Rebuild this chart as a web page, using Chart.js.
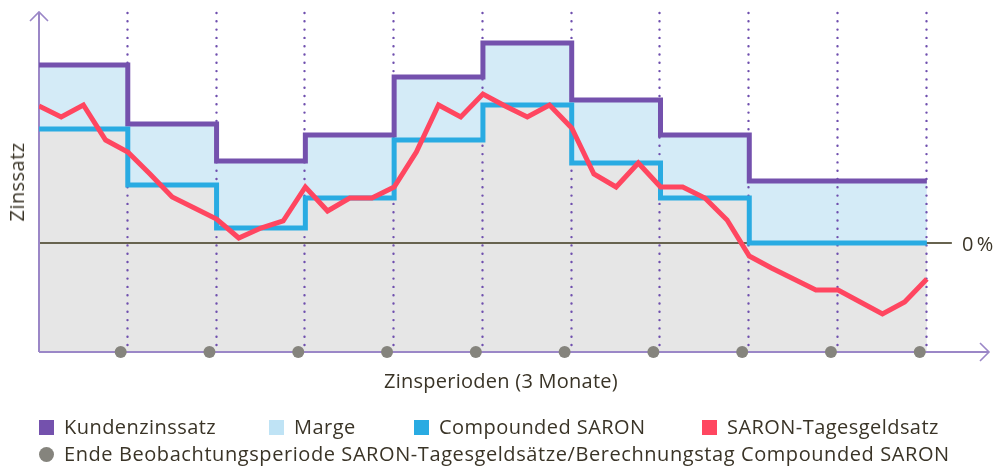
<!DOCTYPE html>
<html><head><meta charset="utf-8">
<script src="https://cdn.jsdelivr.net/npm/chart.js@4.4.0/dist/chart.umd.min.js"></script>
<style>
html,body{margin:0;padding:0;background:#fff;}
#wrap{position:relative;width:995px;height:468px;overflow:hidden;font-family:"Open Sans",sans-serif;color:#3a3427;}
canvas{position:absolute;left:0;top:0;}
.t{position:absolute;font-size:20px;white-space:nowrap;line-height:24px;height:24px;letter-spacing:0.45px;}
.sw{position:absolute;width:15px;height:15px;}
.dot{border-radius:50%;}
</style></head>
<body>
<div id="wrap">
<canvas id="c" width="995" height="468"></canvas>
<div class="t" id="ytitle" style="left:17px;top:182px;transform:translate(-50%,-50%) rotate(-90deg);">Zinssatz</div>
<div class="t" id="xtitle" style="left:501px;top:369px;transform:translateX(-50%);letter-spacing:0.25px;">Zinsperioden (3 Monate)</div>
<div class="t" id="zero" style="left:962px;top:232px;letter-spacing:0;">0&#8201;%</div>
<div id="legend"></div>
</div>
<script>
// ---- data ----
const periodStarts = [0, 1, 2, 3, 4, 5, 6, 7, 8, 9];           // Zinsperioden (3 Monate)
const kundenzinssatz = [1.78, 1.19, 0.82, 1.08, 1.66, 2.00, 1.43, 1.08, 0.62, 0.62];
const compoundedSaron = [1.14, 0.58, 0.15, 0.45, 1.03, 1.38, 0.80, 0.45, 0.00, 0.00];
const saronTagesgeldsatz = [1.37, 1.26, 1.38, 1.03, 0.91, 0.69, 0.46, 0.35, 0.24, 0.05,
  0.15, 0.22, 0.56, 0.32, 0.45, 0.45, 0.56, 0.91, 1.38, 1.26,
  1.49, 1.37, 1.26, 1.38, 1.15, 0.69, 0.56, 0.80, 0.56, 0.56,
  0.45, 0.23, -0.13, -0.25, -0.36, -0.47, -0.47, -0.59, -0.71, -0.59, -0.36];
const obsPerPeriod = 4;
const endBeobachtung = [0.92, 1.92, 2.92, 3.92, 4.92, 5.92, 6.92, 7.92, 8.92, 9.92];
const xMax = 10.7, yMin = -1.09, yMax = 2.31;

const legendRow1 = ["Kundenzinssatz", "Marge", "Compounded SARON", "SARON-Tagesgeldsatz"];
const legendRow2 = ["Ende Beobachtungsperiode SARON-Tagesgeldsätze/Berechnungstag Compounded SARON"];

// ---- colours ----
const C = {purple:'#7451ad', marge:'#d4ebf7', margeKey:'#bfe3f5', blue:'#29abe2', red:'#ff4660', grey:'#e6e6e6', dot:'#85847d'};

function steps(vals){
  const pts = vals.map((v,i)=>({x:periodStarts[i], y:v}));
  pts.push({x:periodStarts.length, y:vals[vals.length-1]});
  return pts;
}

const decor = {
  id:'decor',
  beforeDatasetsDraw(chart){
    const {ctx, chartArea:a, scales:{x, y}} = chart;
    ctx.save();
    ctx.strokeStyle = '#6f4fae'; ctx.lineWidth = 2.4; ctx.lineCap = 'round';
    ctx.setLineDash([0, 8.3]);
    for (let i = 1; i <= periodStarts.length; i++){
      const px = Math.round(x.getPixelForValue(i)) - 0.5;
      ctx.beginPath(); ctx.moveTo(px, a.top + 1); ctx.lineTo(px, a.bottom); ctx.stroke();
    }
    ctx.setLineDash([]);
    const y0 = y.getPixelForValue(0);
    ctx.strokeStyle = '#67634f'; ctx.lineWidth = 2; ctx.lineCap = 'butt';
    ctx.beginPath(); ctx.moveTo(a.left, y0); ctx.lineTo(x.getPixelForValue(periodStarts.length) + 25, y0); ctx.stroke();
    ctx.strokeStyle = '#9b87c7'; ctx.lineWidth = 2;
    ctx.beginPath();
    ctx.moveTo(a.left, a.bottom); ctx.lineTo(a.left, a.top);
    ctx.moveTo(a.left, a.bottom); ctx.lineTo(a.right, a.bottom);
    ctx.stroke();
    ctx.lineWidth = 1.6;
    ctx.beginPath();
    ctx.moveTo(a.left - 9, a.top + 9); ctx.lineTo(a.left, a.top); ctx.lineTo(a.left + 9, a.top + 9);
    ctx.moveTo(a.right - 9, a.bottom - 9); ctx.lineTo(a.right, a.bottom); ctx.lineTo(a.right - 9, a.bottom + 9);
    ctx.stroke();
    ctx.restore();
  }
};

new Chart(document.getElementById('c'), {
  type:'line',
  data:{datasets:[
    {label:'SARON-Tagesgeldsatz', data:saronTagesgeldsatz.map((v,i)=>({x:i/obsPerPeriod, y:v})), borderColor:C.red,
     borderWidth:5, fill:false, order:0},
    {label:'Ende Beobachtungsperiode', data:endBeobachtung.map(v=>({x:v, y:yMin})), showLine:false, fill:false,
     pointRadius:6, pointHoverRadius:6, pointBackgroundColor:C.dot, pointBorderWidth:0, clip:false, order:1},
    {label:'Compounded SARON', data:steps(compoundedSaron), stepped:'before', borderColor:C.blue, borderWidth:5,
     fill:'start', backgroundColor:C.grey, order:2},
    {label:'Kundenzinssatz', data:steps(kundenzinssatz), stepped:'before', borderColor:C.purple, borderWidth:5,
     fill:'-1', backgroundColor:C.marge, order:3}
  ]},
  options:{
    responsive:false, animation:false,
    layout:{padding:{left:39, top:12, right:2, bottom:116}},
    scales:{x:{type:'linear', min:0, max:xMax, display:false}, y:{min:yMin, max:yMax, display:false}},
    plugins:{legend:{display:false}, tooltip:{enabled:false}, filler:{drawTime:'beforeDraw'}},
    elements:{point:{radius:0}, line:{tension:0, borderJoinStyle:'miter'}}
  },
  plugins:[decor]
});

// ---- HTML legend ----
const lg = document.getElementById('legend');
const row1Pos = [[39,64],[269,294],[414,439],[702,727]];
const row1Col = [C.purple, C.margeKey, C.blue, C.red];
legendRow1.forEach((t,i)=>{
  const s = document.createElement('div'); s.className='sw';
  s.style.cssText = `left:${row1Pos[i][0]}px;top:420px;background:${row1Col[i]}`;
  lg.appendChild(s);
  const d = document.createElement('div'); d.className='t'; d.textContent = t;
  d.style.cssText = `left:${row1Pos[i][1]}px;top:415px;`;
  lg.appendChild(d);
});
legendRow2.forEach(t=>{
  const s = document.createElement('div'); s.className='sw dot';
  s.style.cssText = `left:39px;top:447px;background:${C.dot}`;
  lg.appendChild(s);
  const d = document.createElement('div'); d.className='t'; d.textContent = t;
  d.style.cssText = `left:64px;top:442px;letter-spacing:0.58px;`;
  lg.appendChild(d);
});
</script>
</body></html>
